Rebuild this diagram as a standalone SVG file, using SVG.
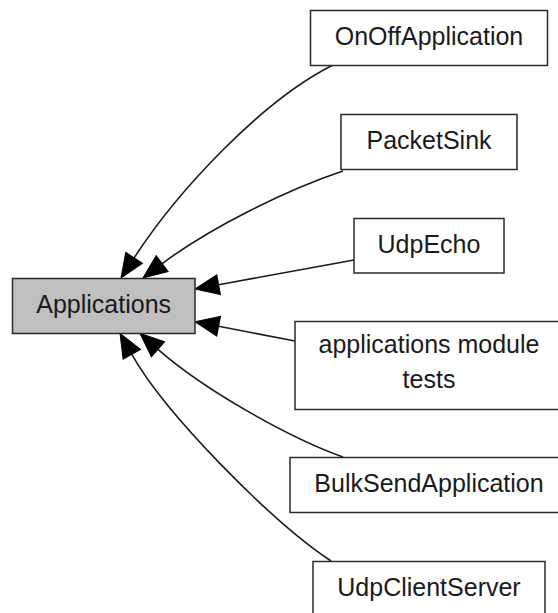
<svg xmlns="http://www.w3.org/2000/svg" width="558" height="613" viewBox="0 0 558 613">
<style>
.box{fill:#ffffff;stroke:#2a2a2a;stroke-width:1.5}
.cur{fill:#bfbfbf;stroke:#2a2a2a;stroke-width:1.5}
.lbl{font-family:"Liberation Sans",Arial,sans-serif;font-size:25px;fill:#1a1a1a;text-anchor:middle}
.edge{fill:none;stroke:#1a1a1a;stroke-width:1.6;marker-end:url(#ah)}
</style>
<defs>
<marker id="ah" markerUnits="userSpaceOnUse" markerWidth="24" markerHeight="20" refX="0" refY="10" orient="auto" overflow="visible">
<path d="M0,0 L24,10 L0,20 z" fill="#000" stroke="#000" stroke-width="1"/>
</marker>
</defs>
<rect width="558" height="613" fill="#ffffff"/>
<g id="connectors">
<path class="edge" d="M333,65 C261.5,100.8 177.7,190.9 134.1,257.9"/>
<path class="edge" d="M343,171 C286,190 210.2,227.6 162.2,263.6"/>
<path class="edge" d="M354,260 L218.6,284.7"/>
<path class="edge" d="M295,341 L218.6,326.3"/>
<path class="edge" d="M343,457 C286.6,436.6 203,388.9 158,349.3"/>
<path class="edge" d="M331,561 C272.9,522.5 166.1,415.3 131.8,354.4"/>
</g>
<g id="node-applications">
<rect class="cur" x="12.5" y="278.5" width="182.5" height="55"/>
<text class="lbl" x="103.7" y="313">Applications</text>
</g>
<g id="node-onoffapplication">
<rect class="box" x="310.5" y="10.5" width="237" height="55"/>
<text class="lbl" x="429" y="44.5">OnOffApplication</text>
</g>
<g id="node-packetsink">
<rect class="box" x="341" y="114.5" width="176" height="55"/>
<text class="lbl" x="429" y="148.5">PacketSink</text>
</g>
<g id="node-udpecho">
<rect class="box" x="354" y="218.5" width="150" height="54.5"/>
<text class="lbl" x="429" y="252.5">UdpEcho</text>
</g>
<g id="node-module-tests">
<rect class="box" x="295" y="321.5" width="268" height="88"/>
<text class="lbl" x="429" y="353.3">applications module</text>
<text class="lbl" x="429" y="388.3">tests</text>
</g>
<g id="node-bulksendapplication">
<rect class="box" x="290" y="457.5" width="278" height="55"/>
<text class="lbl" x="429" y="492">BulkSendApplication</text>
</g>
<g id="node-udpclientserver">
<rect class="box" x="313" y="561.5" width="232" height="55"/>
<text class="lbl" x="429" y="596">UdpClientServer</text>
</g>
</svg>
